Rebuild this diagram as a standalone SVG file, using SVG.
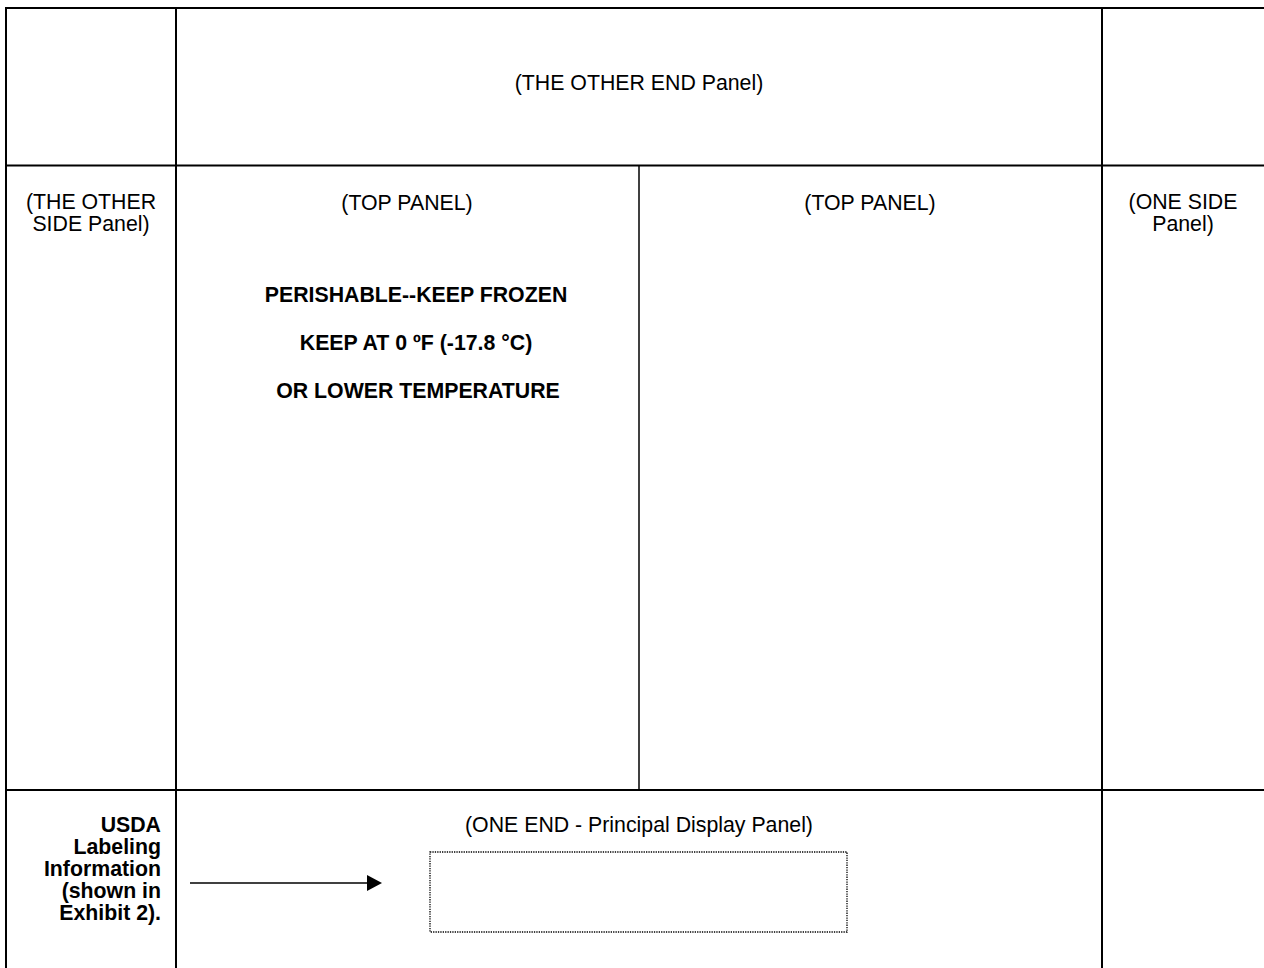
<svg xmlns="http://www.w3.org/2000/svg" width="1264" height="968" viewBox="0 0 1264 968">
<style>
.grid{stroke:#000;stroke-width:2;fill:none}
.thin{stroke:#000;stroke-width:1.5;fill:none}
.t{font-family:"Liberation Sans",Arial,sans-serif;font-size:21.3px;fill:#000}
.b{font-weight:bold}
.c{text-anchor:middle}
.r{text-anchor:end}
.dot{stroke:#000;stroke-width:1.3;fill:none;stroke-dasharray:1.3 1.1}
</style>
<defs>
<marker id="ah" viewBox="0 0 15 16" refX="0" refY="8" markerWidth="15" markerHeight="16" markerUnits="userSpaceOnUse" orient="auto">
<path d="M0,0 L15,8 L0,16 Z" fill="#000"/>
</marker>
</defs>
<rect width="1264" height="968" fill="#fff"/>
<g id="grid">
<line class="grid" x1="6" y1="8" x2="1264" y2="8"/>
<line class="grid" x1="6" y1="7" x2="6" y2="968"/>
<line class="grid" x1="176" y1="8" x2="176" y2="968"/>
<line class="grid" x1="1102" y1="8" x2="1102" y2="968"/>
<line class="grid" x1="6" y1="165.5" x2="1264" y2="165.5"/>
<line class="grid" x1="6" y1="790" x2="1264" y2="790"/>
<line class="thin" x1="639" y1="165.5" x2="639" y2="790"/>
</g>
<g id="other-end">
<text class="t c" x="639" y="90">(THE OTHER END Panel)</text>
</g>
<g id="other-side">
<text class="t c" x="91" y="209">(THE OTHER</text>
<text class="t c" x="91" y="231">SIDE Panel)</text>
</g>
<g id="top-panel-1">
<text class="t c" x="407" y="210">(TOP PANEL)</text>
<text class="t c b" x="416" y="302">PERISHABLE--KEEP FROZEN</text>
<text class="t c b" x="416" y="350">KEEP AT 0 ºF (-17.8 °C)</text>
<text class="t c b" x="418" y="398">OR LOWER TEMPERATURE</text>
</g>
<g id="top-panel-2">
<text class="t c" x="870" y="210">(TOP PANEL)</text>
</g>
<g id="one-side">
<text class="t c" x="1183" y="209">(ONE SIDE</text>
<text class="t c" x="1183" y="231">Panel)</text>
</g>
<g id="usda">
<text class="t b r" x="161" y="832">USDA</text>
<text class="t b r" x="161" y="854">Labeling</text>
<text class="t b r" x="161" y="876">Information</text>
<text class="t b r" x="161" y="898">(shown in</text>
<text class="t b r" x="161" y="920">Exhibit 2).</text>
</g>
<g id="one-end">
<text class="t c" x="639" y="832">(ONE END - Principal Display Panel)</text>
<rect class="dot" x="430" y="852" width="417" height="80"/>
</g>
<g id="connectors">
<line x1="190" y1="883" x2="367" y2="883" stroke="#000" stroke-width="1.5" marker-end="url(#ah)"/>
</g>
</svg>
